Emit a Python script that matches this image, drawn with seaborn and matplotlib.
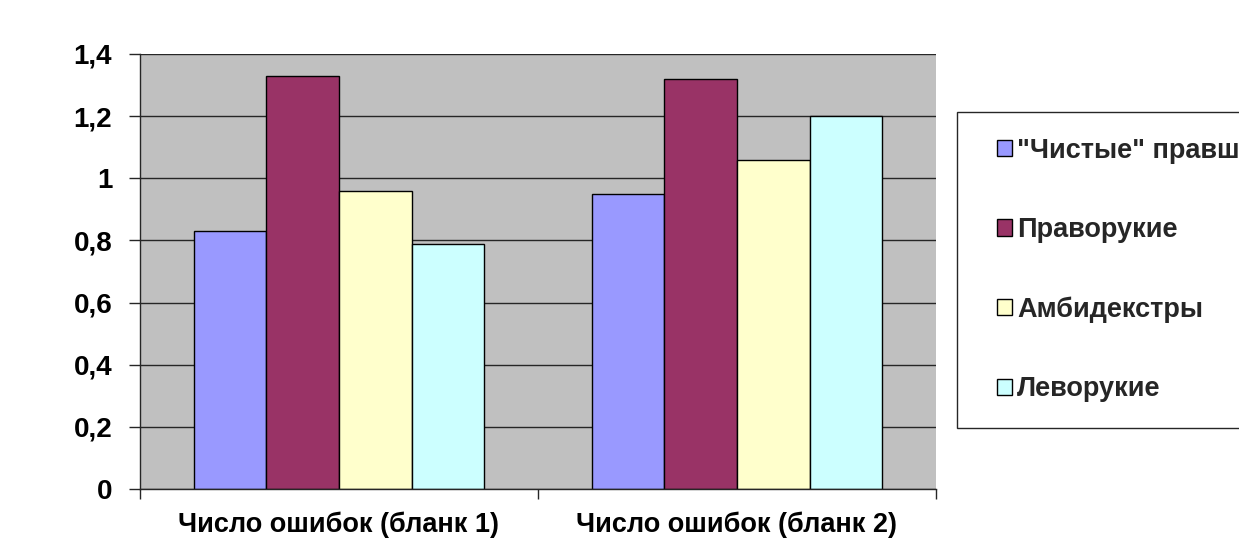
import matplotlib
matplotlib.use("Agg")
import matplotlib.pyplot as plt
from matplotlib.patches import Patch, Rectangle
from matplotlib.ticker import FixedLocator, FuncFormatter
import seaborn as sns
import pandas as pd

categories = ["Число ошибок (бланк 1)", "Число ошибок (бланк 2)"]
groups = ['"Чистые" правши', "Праворукие", "Амбидекстры", "Леворукие"]
values_clean_right = [0.83, 0.95]
values_right = [1.33, 1.32]
values_ambi = [0.96, 1.06]
values_left = [0.79, 1.20]
colors = ["#9999FF", "#993366", "#FFFFCC", "#CCFFFF"]

series = [values_clean_right, values_right, values_ambi, values_left]
df = pd.DataFrame(
    [(c, g, v) for g, vals in zip(groups, series) for c, v in zip(categories, vals)],
    columns=["category", "group", "value"],
)

sns.set_theme(style="white")
plt.rcParams["font.family"] = ["Liberation Sans", "DejaVu Sans"]
plt.rcParams["font.weight"] = "bold"

W, H = 1239, 552
line_col = "#262626"

fig = plt.figure(figsize=(W / 100, H / 100), dpi=100)
ax = fig.add_axes([140 / W, 1 - 489 / H, (936 - 140) / W, (489 - 54) / H])
ax.set_facecolor("#C0C0C0")
ax.set_axisbelow(True)

sns.barplot(
    data=df, x="category", y="value", hue="group", order=categories,
    hue_order=groups, palette=colors, width=0.73, gap=0,
    edgecolor="black", linewidth=1.0, saturation=1, ax=ax, legend=False,
)

ax.set_xlim(-0.5, 1.5)
ax.set_ylim(0, 1.4)
ax.yaxis.set_major_locator(FixedLocator([0, 0.2, 0.4, 0.6, 0.8, 1.0, 1.2, 1.4]))
ax.yaxis.set_major_formatter(FuncFormatter(lambda v, p: f"{v:g}".replace(".", ",")))
ax.grid(axis="y", color=line_col, linewidth=1.0)
ax.grid(axis="x", visible=False)

for side in ["top", "right"]:
    ax.spines[side].set_visible(False)
for side in ["left", "bottom"]:
    ax.spines[side].set_color(line_col)
    ax.spines[side].set_linewidth(1.0)

ax.set_xlabel("")
ax.set_ylabel("")
ax.tick_params(axis="y", which="major", left=True, length=8, width=1, color=line_col,
               labelsize=20, pad=12)
ax.tick_params(axis="x", which="major", bottom=False, labelsize=19.5, pad=10)
ax.xaxis.set_minor_locator(FixedLocator([-0.5, 0.5, 1.5]))
ax.tick_params(axis="x", which="minor", bottom=True, length=7, width=1, color=line_col)
for lbl in ax.get_xticklabels() + ax.get_yticklabels():
    lbl.set_fontweight("bold")
    lbl.set_color("black")

# legend frame, running off the right edge of the figure
fig.patches.append(Rectangle((957 / W, 1 - 428 / H), 400 / W, (428 - 112) / H,
                             transform=fig.transFigure, facecolor="white",
                             edgecolor=line_col, linewidth=1.0, zorder=1))

handles = [Patch(facecolor=c, edgecolor="black", linewidth=1.0) for c in colors]
leg = fig.legend(
    handles, groups, loc="center left", bbox_to_anchor=(997 / W, 1 - 270 / H),
    frameon=False, prop={"weight": "bold", "size": 19.5},
    handlelength=0.55, handleheight=0.55, handletextpad=0.2,
    labelspacing=1.97, borderpad=0, borderaxespad=0,
)
leg.set_zorder(2)

fig.savefig("out.png", dpi=100, facecolor="white")
